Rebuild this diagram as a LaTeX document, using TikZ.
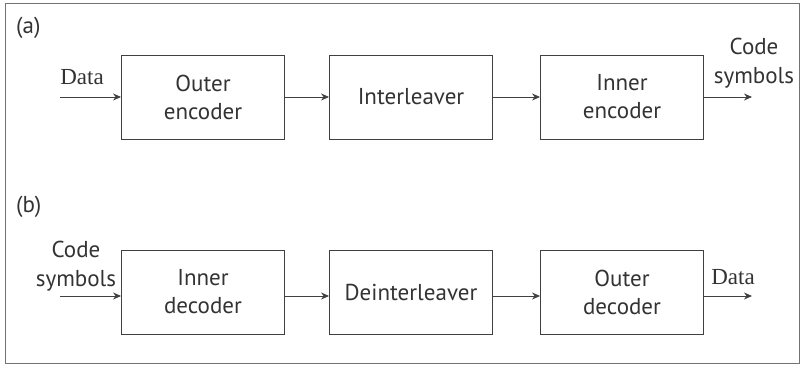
\documentclass[tikz,border=0pt]{standalone}
\usepackage{fontspec}
\setmainfont{PT Sans}
\newfontfamily\datafont{Liberation Serif}
\usetikzlibrary{arrows.meta}
\begin{document}
\begin{tikzpicture}[x=1pt,y=-1pt,
  blk/.style={draw=black!75, line width=0.9pt, minimum width=163pt, minimum height=84pt,
    inner sep=0pt, align=center, font=\fontsize{23}{28}\selectfont, text=black!80},
  lbl/.style={font=\fontsize{23}{29}\selectfont, text=black!80, align=center, inner sep=0pt},
  dlbl/.style={font=\datafont\fontsize{23}{28}\selectfont, text=black!80, inner sep=0pt},
  flow/.style={draw=black!75, line width=0.9pt, -{Stealth[length=8pt,width=7pt]}}]
  \useasboundingbox (0,0) rectangle (801,366);
  % outer frame
  \node[draw=black!55, line width=0.7pt, minimum width=794pt, minimum height=360pt, inner sep=0pt, anchor=north west] (frame) at (5,3) {};

  % (a) encoder chain
  \node[lbl, anchor=west] (la) at (16,28) {(a)};
  \node[blk] (oe) at (203,97) {Outer\\encoder};
  \node[blk] (il) at (411,97) {Interleaver};
  \node[blk] (ie) at (622,97) {Inner\\encoder};
  \coordinate (ain) at (60,97);
  \coordinate (aout) at (752,97);
  \node[dlbl] (adata) at (82,77) {Data};
  \node[lbl] (acode) at (754,63) {Code\\symbols};
  \draw[flow] (ain) -- (oe);
  \draw[flow] (oe) -- (il);
  \draw[flow] (il) -- (ie);
  \draw[flow] (ie) -- (aout);

  % (b) decoder chain
  \node[lbl, anchor=west] (lb) at (16,207) {(b)};
  \node[blk] (id) at (203,292) {Inner\\decoder};
  \node[blk] (di) at (411,292) {Deinterleaver};
  \node[blk] (od) at (622,292) {Outer\\decoder};
  \coordinate (bin) at (60,296);
  \coordinate (bout) at (752,296);
  \node[lbl] (bcode) at (76,266) {Code\\symbols};
  \node[dlbl] (bdata) at (733,277) {Data};
  \draw[flow] (bin) -- (bin -| id.west);
  \draw[flow] (id.east |- bin) -- (bin -| di.west);
  \draw[flow] (di.east |- bin) -- (bin -| od.west);
  \draw[flow] (od.east |- bin) -- (bout);
\end{tikzpicture}
\end{document}
